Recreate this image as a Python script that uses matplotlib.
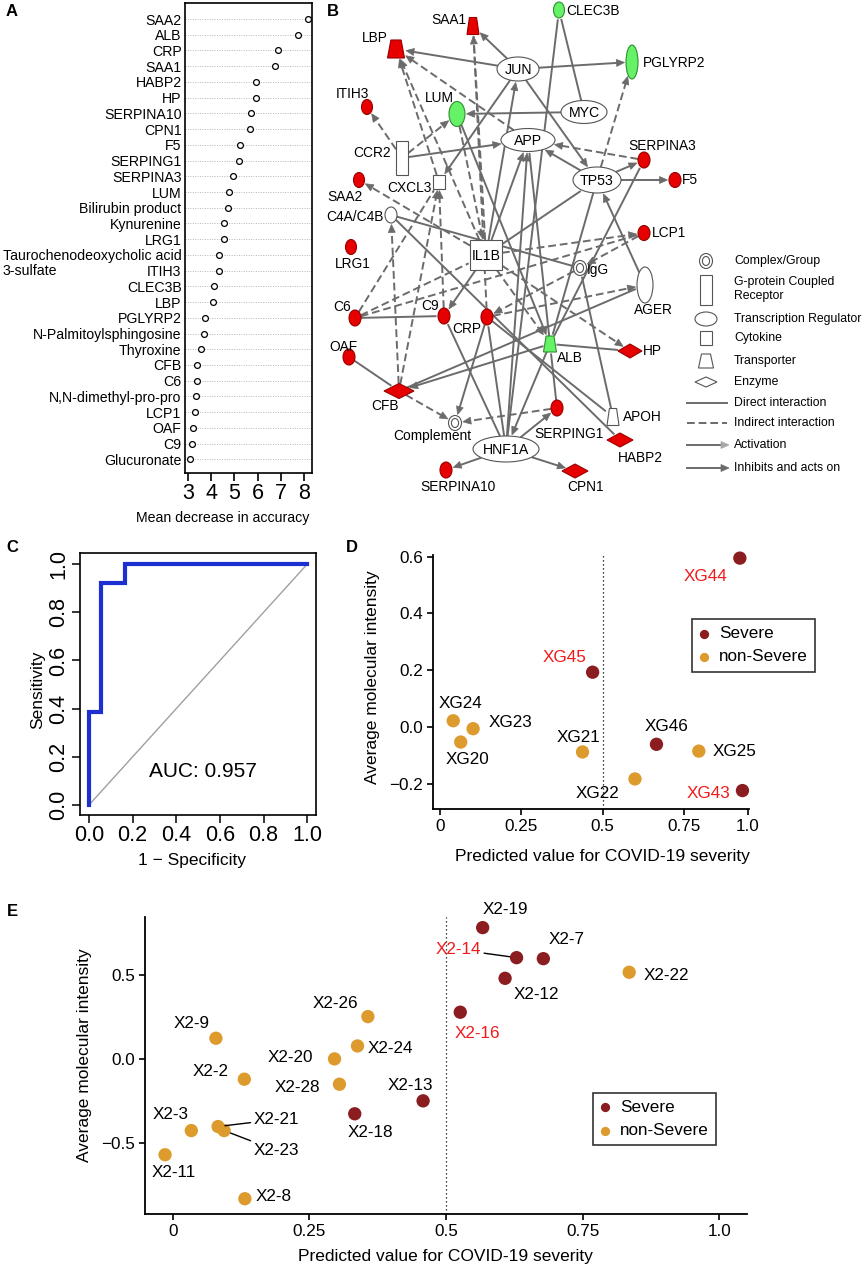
"""Figura compuesta: importancia de variables, red de interacciones, ROC y dispersión de predicciones."""

import numpy as np
import matplotlib
matplotlib.use("Agg")
import matplotlib.pyplot as plt
from matplotlib.patches import Ellipse, Rectangle, Polygon

plt.rcParams["font.family"] = ["Liberation Sans", "DejaVu Sans"]

W, H = 865, 1269  # tamaño final en píxeles (dpi=100)

# DATOS

# Panel A: importancia (mean decrease in accuracy)
a_features = [
    "SAA2", "ALB", "CRP", "SAA1", "HABP2", "HP", "SERPINA10", "CPN1", "F5",
    "SERPING1", "SERPINA3", "LUM", "Bilirubin product", "Kynurenine", "LRG1",
    "Taurochenodeoxycholic acid 3-sulfate", "ITIH3", "CLEC3B", "LBP", "PGLYRP2",
    "N-Palmitoylsphingosine", "Thyroxine", "CFB", "C6", "N,N-dimethyl-pro-pro",
    "LCP1", "OAF", "C9", "Glucuronate",
]
a_importance = [
    8.16, 7.73, 6.87, 6.76, 5.91, 5.91, 5.70, 5.66, 5.23,
    5.22, 4.94, 4.77, 4.73, 4.56, 4.54,
    4.34, 4.34, 4.13, 4.10, 3.74,
    3.70, 3.59, 3.42, 3.39, 3.37,
    3.31, 3.23, 3.18, 3.11,
]
a_ticks = [3, 4, 5, 6, 7, 8]

# Panel B: red de interacciones
b_nodes = [
    "SAA1", "LBP", "JUN", "CLEC3B", "PGLYRP2", "ITIH3", "LUM", "MYC", "APP",
    "CCR2", "CXCL3", "TP53", "SERPINA3", "F5", "SAA2", "C4A/C4B", "LCP1",
    "IL1B", "LRG1", "IgG", "AGER", "C6", "C9", "CRP", "ALB", "OAF", "HP",
    "CFB", "SERPING1", "APOH", "Complement", "HABP2", "HNF1A", "SERPINA10", "CPN1",
]
b_up = ["SAA1", "LBP", "ITIH3", "SERPINA3", "F5", "SAA2", "LCP1", "LRG1", "C6",
        "C9", "CRP", "OAF", "HP", "CFB", "SERPING1", "HABP2", "SERPINA10", "CPN1"]
b_down = ["CLEC3B", "PGLYRP2", "LUM", "ALB"]
b_type = {
    "SAA1": "transporter", "LBP": "transporter", "ALB": "transporter", "APOH": "transporter",
    "JUN": "regulator", "MYC": "regulator", "TP53": "regulator", "HNF1A": "regulator", "APP": "regulator",
    "IL1B": "cytokine", "CXCL3": "cytokine", "CCR2": "gpcr",
    "IgG": "complex", "Complement": "complex",
    "HP": "enzyme", "CFB": "enzyme", "HABP2": "enzyme", "CPN1": "enzyme",
}
# (origen, destino, flecha en destino)
b_direct = [
    ("JUN", "LBP", True), ("JUN", "SAA1", True), ("JUN", "CXCL3", True),
    ("JUN", "TP53", True), ("JUN", "PGLYRP2", True), ("MYC", "LUM", True),
    ("MYC", "CLEC3B", False), ("HNF1A", "CLEC3B", False), ("CCR2", "APP", True),
    ("TP53", "SERPINA3", True), ("TP53", "F5", True), ("TP53", "APP", True),
    ("AGER", "TP53", True), ("TP53", "ALB", False), ("IL1B", "JUN", True),
    ("IL1B", "APP", True), ("IL1B", "C9", True), ("C6", "C9", False),
    ("CRP", "Complement", True), ("HNF1A", "C9", False), ("HNF1A", "CRP", False),
    ("ALB", "HNF1A", True), ("HNF1A", "SERPING1", True), ("HNF1A", "SERPINA10", True),
    ("HNF1A", "CPN1", True), ("OAF", "CFB", False), ("ALB", "CFB", True),
    ("ALB", "HP", False), ("SERPING1", "ALB", False), ("APOH", "IgG", False),
    ("LUM", "ALB", True), ("C4A/C4B", "HABP2", False), ("C4A/C4B", "IgG", False),
    ("CFB", "AGER", False), ("HNF1A", "APP", True), ("ALB", "APP", False),
    ("ALB", "SERPINA3", False), ("CRP", "APOH", False), ("IL1B", "TP53", False),
]
b_indirect = [
    ("CRP", "SAA1", True), ("IL1B", "SAA1", False), ("CXCL3", "LBP", True),
    ("IL1B", "LBP", True), ("APP", "LBP", True), ("CCR2", "LUM", True),
    ("CCR2", "ITIH3", True), ("IL1B", "SAA2", True), ("TP53", "PGLYRP2", True),
    ("SERPINA3", "APP", True), ("IL1B", "LCP1", True), ("C9", "CXCL3", True),
    ("CFB", "CXCL3", True), ("C6", "CXCL3", False), ("CFB", "C4A/C4B", True),
    ("C6", "IL1B", False), ("C6", "LCP1", False), ("IgG", "CRP", True),
    ("CRP", "AGER", True), ("IL1B", "HP", True), ("IL1B", "ALB", True),
    ("LCP1", "IgG", True), ("CFB", "Complement", True), ("SERPING1", "Complement", True),
    ("LUM", "IL1B", True),
]
b_legend = ["Complex/Group", "G-protein Coupled\nReceptor", "Transcription Regulator",
            "Cytokine", "Transporter", "Enzyme", "Direct interaction",
            "Indirect interaction", "Activation", "Inhibits and acts on"]

# Panel C: curva ROC
roc_fpr = [0.0, 0.0, 0.056, 0.056, 0.167, 0.167, 1.0]
roc_tpr = [0.0, 0.385, 0.385, 0.923, 0.923, 1.0, 1.0]
auc_value = 0.957

# Panel D: cohorte de prueba
d_samples = ["XG44", "XG45", "XG24", "XG23", "XG20", "XG21", "XG46", "XG25", "XG22", "XG43"]
d_predicted = [0.921, 0.469, 0.041, 0.102, 0.064, 0.438, 0.665, 0.795, 0.599, 0.929]
d_intensity = [0.595, 0.193, 0.022, -0.006, -0.053, -0.088, -0.061, -0.085, -0.183, -0.224]
d_severe = [True, True, False, False, False, False, True, False, False, True]
d_flagged = ["XG44", "XG45", "XG43"]

# Panel E: segunda cohorte
e_samples = ["X2-9", "X2-2", "X2-3", "X2-21", "X2-23", "X2-11", "X2-8", "X2-26",
             "X2-24", "X2-20", "X2-28", "X2-18", "X2-13", "X2-19", "X2-14", "X2-7",
             "X2-12", "X2-16", "X2-22"]
e_predicted = [0.079, 0.131, 0.034, 0.083, 0.094, -0.014, 0.132, 0.357,
               0.338, 0.296, 0.305, 0.333, 0.458, 0.567, 0.629, 0.678,
               0.608, 0.526, 0.835]
e_intensity = [0.123, -0.121, -0.427, -0.403, -0.427, -0.571, -0.833, 0.252,
               0.077, 0.0, -0.151, -0.327, -0.25, 0.782, 0.603, 0.597,
               0.48, 0.278, 0.516]
e_severe = [False, False, False, False, False, False, False, False,
            False, False, False, True, True, True, True, True,
            True, True, False]
e_flagged = ["X2-14", "X2-16"]

# ESTILO

SEVERE_COLOR = "#8b1c1f"
MILD_COLOR = "#dd9b2e"
FLAG_COLOR = "#f01a1a"
EDGE_GRAY = "#6b6b6b"
UP_FILL, UP_EDGE = "#e60000", "#9a0000"
DOWN_FILL, DOWN_EDGE = "#66f266", "#2f8f2f"

# posición de las etiquetas de la dispersión, en píxeles (dx, dy hacia abajo)
d_label_offsets = {
    "XG44": (-34, 18), "XG45": (-28, -15), "XG24": (7, -17), "XG23": (37, -6),
    "XG20": (7, 17), "XG21": (-4, -14), "XG46": (10, -18), "XG25": (36, 0),
    "XG22": (-37, 15), "XG43": (-34, 3),
}
e_label_offsets = {
    "X2-9": (-24, -15), "X2-2": (-34, -8), "X2-3": (-21, -16), "X2-21": (58, -7),
    "X2-23": (52, 20), "X2-11": (9, 18), "X2-8": (29, -2), "X2-26": (-32, -13),
    "X2-24": (33, 3), "X2-20": (-44, -1), "X2-28": (-42, 3), "X2-18": (16, 19),
    "X2-13": (-13, -15), "X2-19": (23, -18), "X2-14": (-58, -8), "X2-7": (23, -19),
    "X2-12": (31, 16), "X2-16": (17, 21), "X2-22": (37, 3),
}
e_leader = ["X2-21", "X2-23", "X2-14"]

# disposición de la red: x, y, ancho, alto, etiqueta x, etiqueta y, alineación
b_layout = {
    "SAA1": (473, 26, 12, 17, 466, 20, "right"),
    "LBP": (396, 49, 17, 18, 388, 38, "right"),
    "JUN": (518, 69, 42, 24, None, None, None),
    "CLEC3B": (559, 10, 11, 16, 566, 11, "left"),
    "PGLYRP2": (632, 62, 12, 34, 643, 63, "left"),
    "ITIH3": (367, 107, 11, 15, 352, 94, "center"),
    "LUM": (457, 114, 16, 25, 439, 98, "center"),
    "MYC": (584, 112, 46, 23, None, None, None),
    "APP": (528, 140, 54, 23, None, None, None),
    "CCR2": (402, 158, 12, 34, 391, 153, "right"),
    "CXCL3": (439, 182, 12, 14, 432, 188, "right"),
    "TP53": (597, 180, 48, 26, None, None, None),
    "SERPINA3": (644, 160, 12, 16, 662, 146, "center"),
    "F5": (675, 180, 12, 15, 682, 180, "left"),
    "SAA2": (359, 180, 11, 15, 345, 197, "center"),
    "C4A/C4B": (391, 215, 12, 16, 384, 217, "right"),
    "LCP1": (644, 233, 12, 15, 652, 233, "left"),
    "IL1B": (486, 255, 32, 30, None, None, None),
    "LRG1": (351, 247, 11, 15, 353, 264, "center"),
    "IgG": (580, 268, 13, 15, 587, 270, "left"),
    "AGER": (645, 285, 16, 36, 653, 310, "center"),
    "C6": (355, 318, 12, 16, 342, 307, "center"),
    "C9": (444, 316, 12, 16, 430, 306, "center"),
    "CRP": (487, 317, 12, 16, 467, 329, "center"),
    "ALB": (550, 344, 13, 16, 570, 358, "center"),
    "OAF": (349, 357, 12, 16, 343, 347, "center"),
    "HP": (630, 351, 24, 14, 643, 351, "left"),
    "CFB": (399, 391, 30, 15, 385, 406, "center"),
    "SERPING1": (557, 408, 12, 16, 569, 434, "center"),
    "APOH": (613, 417, 12, 17, 623, 417, "left"),
    "Complement": (455, 423, 13, 15, 432, 436, "center"),
    "HABP2": (620, 440, 26, 14, 640, 458, "center"),
    "HNF1A": (506, 449, 66, 26, None, None, None),
    "SERPINA10": (446, 470, 12, 16, 458, 487, "center"),
    "CPN1": (575, 471, 26, 14, 585, 487, "center"),
}


# FUNCIONES AUXILIARES

def px_axes(fig, left, top, right, bottom):
    """Crea ejes a partir de una caja en píxeles (origen arriba a la izquierda)."""
    return fig.add_axes([left / W, 1 - bottom / H, (right - left) / W, (bottom - top) / H])


def px_text(fig, x, y, s, **kw):
    kw.setdefault("ha", "center")
    kw.setdefault("va", "center")
    return fig.text(x / W, 1 - y / H, s, **kw)


def shape_of(name):
    kind = b_type.get(name, "other")
    return {"transporter": "trap", "enzyme": "diam", "cytokine": "rect", "gpcr": "rect",
            "complex": "dcirc"}.get(kind, "ell")


def draw_shape(ax, shape, x, y, w, h, face, edge, z=3):
    if shape == "ell":
        ax.add_patch(Ellipse((x, y), w, h, fc=face, ec=edge, lw=0.8, zorder=z))
    elif shape == "rect":
        ax.add_patch(Rectangle((x - w / 2, y - h / 2), w, h, fc=face, ec=edge, lw=0.8, zorder=z))
    elif shape == "diam":
        pts = [(x - w / 2, y), (x, y - h / 2), (x + w / 2, y), (x, y + h / 2)]
        ax.add_patch(Polygon(pts, closed=True, fc=face, ec=edge, lw=0.8, zorder=z))
    elif shape == "trap":
        pts = [(x - w * 0.3, y - h / 2), (x + w * 0.3, y - h / 2), (x + w / 2, y + h / 2), (x - w / 2, y + h / 2)]
        ax.add_patch(Polygon(pts, closed=True, fc=face, ec=edge, lw=0.8, zorder=z))
    elif shape == "dcirc":
        ax.add_patch(Ellipse((x, y), w, h, fc=face, ec=edge, lw=0.8, zorder=z))
        ax.add_patch(Ellipse((x, y), w * 0.55, h * 0.6, fc=face, ec=edge, lw=0.8, zorder=z))


def boundary(name, ux, uy):
    """Distancia desde el centro del nodo hasta su borde en la dirección (ux, uy)."""
    _, _, w, h = b_layout[name][:4]
    a, b = w / 2, h / 2
    shape = shape_of(name)
    if shape in ("ell", "dcirc"):
        return 1.0 / np.hypot(ux / a, uy / b)
    if shape == "diam":
        return 1.0 / (abs(ux) / a + abs(uy) / b)
    return min(a / abs(ux) if ux else np.inf, b / abs(uy) if uy else np.inf)


def arrow_head(ax, tip, u, color, length=8, half=3.5, z=2):
    perp = np.array([-u[1], u[0]])
    base = tip - length * u
    pts = [tip, base + half * perp, base - half * perp]
    ax.add_patch(Polygon(pts, closed=True, fc=color, ec=color, lw=0.5, zorder=z))


def draw_edge(ax, src, dst, dashed, arrow):
    p0 = np.array(b_layout[src][:2], dtype=float)
    p1 = np.array(b_layout[dst][:2], dtype=float)
    d = p1 - p0
    u = d / np.hypot(*d)
    start = p0 + u * boundary(src, *u)
    end = p1 - u * (boundary(dst, *u) + 1.5)
    line_end = end - u * 6 if arrow else end
    ls = (0, (4, 2)) if dashed else "-"
    ax.plot([start[0], line_end[0]], [start[1], line_end[1]], color=EDGE_GRAY, lw=1.4,
            ls=ls, zorder=1, solid_capstyle="butt", dash_capstyle="butt")
    if arrow:
        arrow_head(ax, end, u, EDGE_GRAY)


def style_scatter_axes(ax):
    for side in ("top", "right"):
        ax.spines[side].set_visible(False)
    for side in ("left", "bottom"):
        ax.spines[side].set_linewidth(1.3)
    ax.tick_params(direction="out", length=4.5, width=1.2, labelsize=12.3, pad=2.5)


def scatter_panel(ax, predicted, intensity, severe, samples, flagged, offsets, leaders=()):
    colors = [SEVERE_COLOR if s else MILD_COLOR for s in severe]
    ax.scatter(predicted, intensity, s=92, c=colors, edgecolors="none", zorder=3, clip_on=False)
    for name, x, y in zip(samples, predicted, intensity):
        dx, dy = offsets[name]
        kw = {}
        if name in leaders:
            kw["arrowprops"] = dict(arrowstyle="-", color="black", lw=1.0, shrinkA=0, shrinkB=5)
        ax.annotate(name, (x, y), xytext=(dx, -dy), textcoords="offset pixels",
                    ha="center", va="center", fontsize=12.3,
                    color=FLAG_COLOR if name in flagged else "black", **kw)
    ax.axvline(0.5, color="black", lw=0.9, ls=(0, (1, 2.2)), zorder=1)
    ax.scatter([], [], s=32, c=SEVERE_COLOR, label="Severe")
    ax.scatter([], [], s=32, c=MILD_COLOR, label="non-Severe")


def add_legend(ax, anchor):
    leg = ax.legend(loc="upper left", bbox_to_anchor=anchor, frameon=True, fancybox=False,
                    edgecolor="black", fontsize=12.3, borderpad=0.42, labelspacing=0.48,
                    handlelength=0.6, handletextpad=0.6, borderaxespad=0)
    leg.get_frame().set_linewidth(1.2)
    return leg


# FIGURA

fig = plt.figure(figsize=(W / 100, H / 100), dpi=100)

for letter, (x, y) in {"A": (12, 11), "B": (333, 11), "C": (12, 547), "D": (352, 547), "E": (12, 912)}.items():
    px_text(fig, x, y, letter, fontsize=12, fontweight="bold")

# Panel A: dotchart
ax_a = px_axes(fig, 185, 3, 312, 473)
rows = np.arange(len(a_features), 0, -1)
for r in rows:
    ax_a.axhline(r, color="#b5b5b5", lw=0.7, ls=(0, (1, 1.5)), zorder=0)
ax_a.plot(a_importance, rows, "o", mfc="white", mec="black", ms=4.2, mew=0.9, ls="none",
          clip_on=False, zorder=3)
ax_a.set_xlim(2.884, 8.33)
ax_a.set_ylim(0.13, 30.02)
ax_a.set_xticks(a_ticks, labels=[str(t) for t in a_ticks])
ax_a.set_yticks(rows, labels=[f.replace(" 3-sulfate", "") for f in a_features])
ax_a.tick_params(axis="y", length=0, pad=2.5, labelsize=10.2)
ax_a.tick_params(axis="x", direction="out", length=5.5, width=1.2, labelsize=15.5, pad=1.5)
for sp in ax_a.spines.values():
    sp.set_linewidth(1.2)
px_text(fig, 3, 271, "3-sulfate", ha="left", fontsize=10.2)
px_text(fig, 223, 518, "Mean decrease in accuracy", fontsize=10.2)

# Panel B: red
ax_b = px_axes(fig, 320, 0, 865, 500)
ax_b.set_xlim(320, 865)
ax_b.set_ylim(500, 0)
ax_b.axis("off")
for src, dst, arrow in b_direct:
    draw_edge(ax_b, src, dst, False, arrow)
for src, dst, arrow in b_indirect:
    draw_edge(ax_b, src, dst, True, arrow)
for name in b_nodes:
    x, y, w, h, lx, ly, ha = b_layout[name]
    if name in b_up:
        face, edge = UP_FILL, UP_EDGE
    elif name in b_down:
        face, edge = DOWN_FILL, DOWN_EDGE
    else:
        face, edge = "white", "#555555"
    draw_shape(ax_b, shape_of(name), x, y, w, h, face, edge)
    if lx is None:
        ax_b.text(x, y + 1, name, ha="center", va="center", fontsize=10.2, zorder=4)
    else:
        ax_b.text(lx, ly, name, ha=ha, va="center", fontsize=9.9, zorder=4)

legend_shapes = [("dcirc", 261, 13, 15), ("rect", 290, 12, 30), ("ell", 319, 22, 14),
                 ("rect", 338, 12, 14), ("trap", 361, 15, 14), ("diam", 382, 22, 10)]
legend_text_y = [261, 289, 319, 338, 361, 382, 403, 423, 445, 468]
for shape, y, w, h in legend_shapes:
    draw_shape(ax_b, shape, 706, y, w, h, "white", "#555555")
ax_b.plot([687, 727], [403, 403], color=EDGE_GRAY, lw=1.4)
ax_b.plot([687, 727], [423, 423], color=EDGE_GRAY, lw=1.4, ls=(0, (4, 2)))
ax_b.plot([687, 721], [445, 445], color=EDGE_GRAY, lw=1.4)
arrow_head(ax_b, np.array([729.0, 445.0]), np.array([1.0, 0.0]), "#a8a8a8")
ax_b.plot([687, 721], [468, 468], color=EDGE_GRAY, lw=1.4)
arrow_head(ax_b, np.array([729.0, 468.0]), np.array([1.0, 0.0]), EDGE_GRAY)
for label, y in zip(b_legend, legend_text_y):
    ax_b.text(734, y, label, ha="left", va="center", fontsize=8.8, linespacing=1.15)

# Panel C: ROC
ax_c = px_axes(fig, 80, 553, 316, 815)
ax_c.plot([0, 1], [0, 1], color="#a0a0a0", lw=1.0)
ax_c.plot(roc_fpr, roc_tpr, color="#1c2fd0", lw=3.0, solid_joinstyle="miter")
ax_c.set_xlim(-0.041, 1.04)
ax_c.set_ylim(-0.0415, 1.046)
roc_ticks = [0.0, 0.2, 0.4, 0.6, 0.8, 1.0]
ax_c.set_xticks(roc_ticks, labels=[f"{t:.1f}" for t in roc_ticks])
ax_c.set_yticks(roc_ticks, labels=[f"{t:.1f}" for t in roc_ticks])
ax_c.tick_params(direction="out", length=5.5, width=1.1, labelsize=15.5, pad=2)
plt.setp(ax_c.get_yticklabels(), rotation=90, va="center")
for sp in ax_c.spines.values():
    sp.set_linewidth(1.2)
ax_c.text(0.52, 0.14, f"AUC: {auc_value:.3f}", ha="center", va="center", fontsize=15)
px_text(fig, 38, 690, "Sensitivity", rotation=90, fontsize=12.5)
px_text(fig, 192, 861, "1 \u2212 Specificity", fontsize=12.5)

# Panel D
ax_d = px_axes(fig, 432.7, 555, 749.3, 809.3)
scatter_panel(ax_d, d_predicted, d_intensity, d_severe, d_samples, d_flagged, d_label_offsets)
ax_d.set_xlim(-0.022, 0.95)
ax_d.set_ylim(-0.29, 0.606)
ax_d.set_xticks([0, 0.25, 0.5, 0.75, 0.946], labels=["0", "0.25", "0.5", "0.75", "1.0"])
ax_d.set_yticks([0.6, 0.4, 0.2, 0.0, -0.2], labels=["0.6", "0.4", "0.2", "0.0", "\u22120.2"])
style_scatter_axes(ax_d)
add_legend(ax_d, (0.818, 0.748))
px_text(fig, 373, 677, "Average molecular intensity", rotation=90, fontsize=12.5)
px_text(fig, 602, 856, "Predicted value for COVID-19 severity", fontsize=12.5)

# Panel E
ax_e = px_axes(fig, 145, 916.7, 746.7, 1214)
scatter_panel(ax_e, e_predicted, e_intensity, e_severe, e_samples, e_flagged, e_label_offsets, e_leader)
ax_e.set_xlim(-0.0507, 1.05)
ax_e.set_ylim(-0.924, 0.847)
ax_e.set_xticks([0, 0.25, 0.5, 0.75, 1.0], labels=["0", "0.25", "0.5", "0.75", "1.0"])
ax_e.set_yticks([0.5, 0.0, -0.5], labels=["0.5", "0.0", "\u22120.5"])
style_scatter_axes(ax_e)
add_legend(ax_e, (0.744, 0.408))
px_text(fig, 84, 1055, "Average molecular intensity", rotation=90, fontsize=12.5)
px_text(fig, 445, 1257, "Predicted value for COVID-19 severity", fontsize=12.5)

fig.savefig("out.png", dpi=100)
plt.close(fig)
